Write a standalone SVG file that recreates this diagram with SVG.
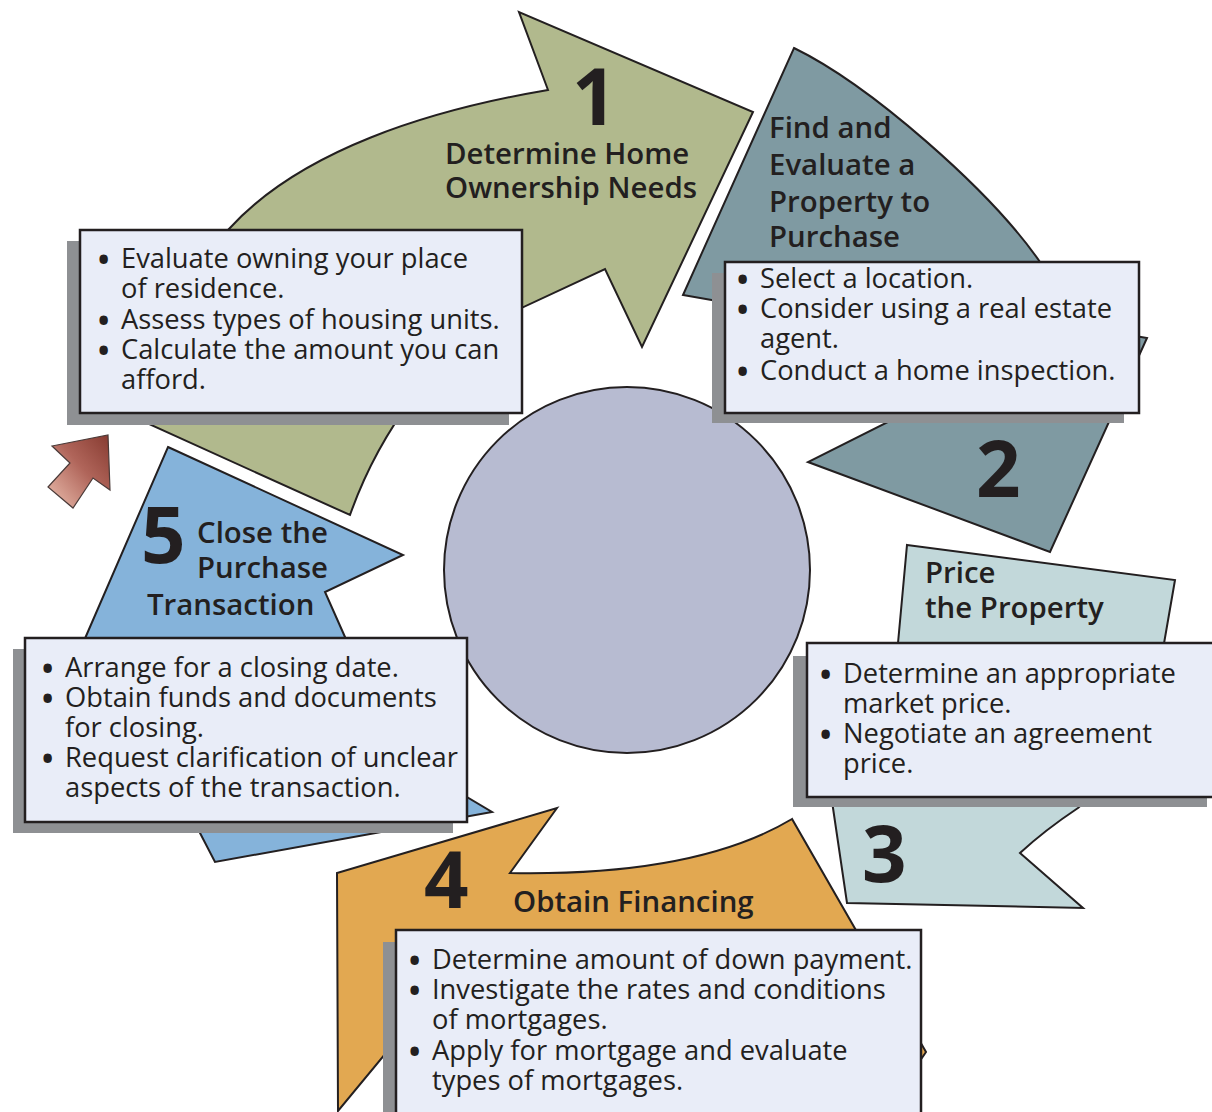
<svg xmlns="http://www.w3.org/2000/svg" width="1212" height="1112" viewBox="0 0 1212 1112">
  <defs>
    <style>
      .shape { stroke: #231f20; stroke-width: 2; stroke-linejoin: miter; }
      .shadow { fill: #8e9093; }
      .box { fill: #e9edf8; stroke: #231f20; stroke-width: 2.5; }
      text { font-family: "Open Sans", "Noto Sans", sans-serif; fill: #231f20; }
      .body { font-size: 27.3px; }
      .bul { font-size: 30px; font-weight: 700; }
      .title { font-size: 29.4px; font-weight: 600; }
      .num { font-size: 78px; font-weight: 700; }
    </style>
    <linearGradient id="redGrad" x1="0" y1="1" x2="1" y2="0">
      <stop offset="0" stop-color="#ecc0b0"/>
      <stop offset="0.55" stop-color="#b0655a"/>
      <stop offset="1" stop-color="#863a30"/>
    </linearGradient>
  </defs>

  <rect width="1212" height="1112" fill="#ffffff"/>

  <!-- central hub -->
  <g id="hub">
    <circle cx="627" cy="570" r="183" fill="#b7bbd1" stroke="#231f20" stroke-width="2"/>
  </g>

  <!-- step 1: determine needs -->
  <g id="step1">
    <path class="shape" fill="#b1b98d" d="M548,90 L519,12 L753,112 L642,347 L605,269 L500,318 C440,350 380,430 350,515 L140,420 C150,350 180,280 228,230 C300,150 430,110 548,90 Z"/>
    <text class="num" x="572" y="125">1</text>
    <text class="title"><tspan x="445" y="164">Determine Home</tspan><tspan x="445" y="198">Ownership Needs</tspan></text>
    <rect class="shadow" x="67" y="241" width="442" height="184"/>
    <rect class="box" x="80" y="230" width="442" height="183"/>
    <text class="bul"><tspan x="98" y="270">•</tspan><tspan x="98" y="330.5">•</tspan><tspan x="98" y="360.5">•</tspan></text>
    <text class="body"><tspan x="121" y="268">Evaluate owning your place</tspan><tspan x="121" y="298">of residence.</tspan><tspan x="121" y="328.5">Assess types of housing units.</tspan><tspan x="121" y="358.5">Calculate the amount you can</tspan><tspan x="121" y="389">afford.</tspan></text>
  </g>

  <!-- step 2: find and evaluate -->
  <g id="step2">
    <path class="shape" fill="#7f9aa2" d="M794,48 C870,85 990,190 1040,262 L1100,330 L1147,338 L1050,552 L808,462 L890,421 Q820,340 740,305 L683,295 Z"/>
    <text class="num" x="976" y="497">2</text>
    <text class="title"><tspan x="769" y="138">Find and</tspan><tspan x="769" y="175">Evaluate a</tspan><tspan x="769" y="212">Property to</tspan><tspan x="769" y="247">Purchase</tspan></text>
    <rect class="shadow" x="712" y="273" width="412" height="150"/>
    <rect class="box" x="725" y="262" width="414" height="151"/>
    <text class="bul"><tspan x="737" y="290">•</tspan><tspan x="737" y="320">•</tspan><tspan x="737" y="382">•</tspan></text>
    <text class="body"><tspan x="760" y="288">Select a location.</tspan><tspan x="760" y="318">Consider using a real estate</tspan><tspan x="760" y="348">agent.</tspan><tspan x="760" y="380">Conduct a home inspection.</tspan></text>
  </g>

  <!-- step 3: price the property -->
  <g id="step3">
    <path class="shape" fill="#c2d8da" d="M907,545 L1175,580 L1162,655 C1150,720 1110,780 1078,808 Q1045,830 1020,853 L1083,908 L847,903 L833,808 L826,760 C840,720 880,690 898,643 Z"/>
    <text class="num" x="862" y="882">3</text>
    <text class="title"><tspan x="925" y="583">Price</tspan><tspan x="925" y="618">the Property</tspan></text>
    <rect class="shadow" x="793" y="656" width="414" height="151"/>
    <rect class="box" x="807" y="643" width="414" height="154"/>
    <text class="bul"><tspan x="820" y="685">•</tspan><tspan x="820" y="745">•</tspan></text>
    <text class="body"><tspan x="843" y="683">Determine an appropriate</tspan><tspan x="843" y="713">market price.</tspan><tspan x="843" y="743">Negotiate an agreement</tspan><tspan x="843" y="773">price.</tspan></text>
  </g>

  <!-- step 4: obtain financing -->
  <g id="step4">
    <path class="shape" fill="#e2a851" d="M557,808 L510,873 C620,875 720,862 792,819 L926,1052 L915,1068 L700,1080 L390,1048 L338,1111 L337,873 Z"/>
    <text class="num" x="424" y="908">4</text>
    <text class="title"><tspan x="513" y="912">Obtain Financing</tspan></text>
    <rect class="shadow" x="383" y="942" width="525" height="200"/>
    <rect class="box" x="396" y="930" width="525" height="200"/>
    <text class="bul"><tspan x="409" y="971">•</tspan><tspan x="409" y="1001">•</tspan><tspan x="409" y="1062">•</tspan></text>
    <text class="body"><tspan x="432" y="969">Determine amount of down payment.</tspan><tspan x="432" y="999">Investigate the rates and conditions</tspan><tspan x="432" y="1029">of mortgages.</tspan><tspan x="432" y="1060">Apply for mortgage and evaluate</tspan><tspan x="432" y="1090">types of mortgages.</tspan></text>
  </g>

  <!-- step 5: close the purchase -->
  <g id="step5">
    <path class="shape" fill="#85b3da" d="M168,447 L403,555 L325,592 L345,637 L360,670 L440,781 L492,812 L215,862 L200,833 L185,804 L80,650 Z"/>
    <text class="num" x="141" y="563">5</text>
    <text class="title"><tspan x="197" y="543">Close the</tspan><tspan x="197" y="578">Purchase</tspan><tspan x="147" y="615">Transaction</tspan></text>
    <rect class="shadow" x="13" y="649" width="440" height="184"/>
    <rect class="box" x="25" y="638" width="442" height="184"/>
    <text class="bul"><tspan x="42" y="679">•</tspan><tspan x="42" y="709">•</tspan><tspan x="42" y="769">•</tspan></text>
    <text class="body"><tspan x="65" y="677">Arrange for a closing date.</tspan><tspan x="65" y="707">Obtain funds and documents</tspan><tspan x="65" y="737">for closing.</tspan><tspan x="65" y="767">Request clarification of unclear</tspan><tspan x="65" y="797">aspects of the transaction.</tspan></text>
  </g>

  <!-- return arrow back to the first step -->
  <g id="connectors">
    <path d="M108,435 L110,490 L93,478 L73,508 L48,487 L70,463 L52,446 Z" fill="url(#redGrad)" stroke="#4a3a38" stroke-width="1.2"/>
  </g>
</svg>
